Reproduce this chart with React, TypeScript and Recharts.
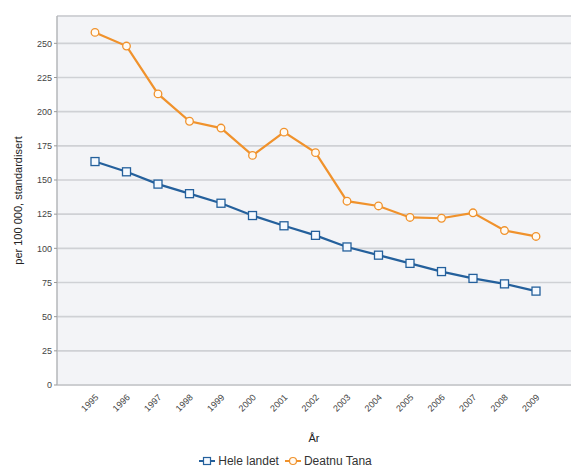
import React from 'react';
import { LineChart, Line, XAxis, YAxis, CartesianGrid, Legend, Label, ReferenceLine } from 'recharts';

const years = ['1995','1996','1997','1998','1999','2000','2001','2002','2003','2004','2005','2006','2007','2008','2009'];
const heleLandet = [163.5, 156, 147, 140, 133, 124, 116.5, 109.5, 101, 95, 89, 83, 78, 74, 68.7];
const deatnuTana = [258, 248, 213, 193, 188, 168, 185, 170, 134.5, 131, 122.6, 122, 126, 113, 108.7];
const yTicks = [0, 25, 50, 75, 100, 125, 150, 175, 200, 225, 250];

const data = years.map((y, i) => ({ year: y, hele: heleLandet[i], tana: deatnuTana[i] }));

const BLUE = '#24609c';
const ORANGE = '#f0922c';
const FONT = '"Liberation Sans", Arial, sans-serif';

const SquareDot = (props: any) => {
  const { cx, cy, index } = props;
  if (cx == null || cy == null) return null;
  return <rect key={`s${index}`} x={cx - 4} y={cy - 4} width={8} height={8} fill="#f4f9ff" stroke={BLUE} strokeWidth={1.3} />;
};

const CircleDot = (props: any) => {
  const { cx, cy, index } = props;
  if (cx == null || cy == null) return null;
  return <circle key={`c${index}`} cx={cx} cy={cy} r={3.8} fill="#fffaf3" stroke={ORANGE} strokeWidth={1.3} />;
};

const XTick = (props: any) => {
  const { x, y, payload } = props;
  return (
    <text x={x + 4} y={y + 5} transform={`rotate(-45, ${x + 4}, ${y + 5})`} textAnchor="end" fontSize={9} fill="#444" fontFamily={FONT}>
      {payload.value}
    </text>
  );
};

const LegendContent = () => (
  <div style={{ display: 'flex', justifyContent: 'center', alignItems: 'center', fontFamily: FONT, fontSize: 12, color: '#333' }}>
    <svg width={16} height={10} style={{ marginRight: 3 }}>
      <line x1={0} y1={5} x2={16} y2={5} stroke={BLUE} strokeWidth={2} />
      <rect x={4.5} y={1.5} width={7} height={7} fill="#f4f9ff" stroke={BLUE} strokeWidth={1.2} />
    </svg>
    <span style={{ marginRight: 6 }}>Hele landet</span>
    <svg width={16} height={10} style={{ marginRight: 3 }}>
      <line x1={0} y1={5} x2={16} y2={5} stroke={ORANGE} strokeWidth={2} />
      <circle cx={8} cy={5} r={3.5} fill="#fffaf3" stroke={ORANGE} strokeWidth={1.2} />
    </svg>
    <span>Deatnu Tana</span>
  </div>
);

export default function App() {
  return (
    <div style={{ position: 'absolute', left: 0, top: 0, width: 571, height: 474, background: '#fff' }}>
      <LineChart width={571} height={474} data={data} margin={{ top: 16, right: 0, left: 0, bottom: 0 }}>
        <CartesianGrid vertical={false} stroke="#cfd1d5" strokeWidth={1.6} fill="#f3f4f7" fillOpacity={1} />
        <ReferenceLine y={270} stroke="#cfd1d5" strokeWidth={1.6} />
        <XAxis
          dataKey="year"
          height={69}
          padding={{ left: 38, right: 35 }}
          tick={<XTick />}
          tickLine={false}
          axisLine={{ stroke: '#c8cacd', strokeWidth: 1.5 }}
          interval={0}
        >
          <Label value="År" position="insideBottom" offset={12} style={{ fontSize: 11, fill: '#222', fontFamily: FONT }} />
        </XAxis>
        <YAxis
          width={57}
          domain={[0, 270]}
          ticks={yTicks}
          interval={0}
          tick={{ fontSize: 9, fill: '#444', fontFamily: FONT }}
          tickSize={3}
          tickLine={{ stroke: '#999' }}
          axisLine={{ stroke: '#b5b7ba', strokeWidth: 1.5 }}
        >
          <Label value="per 100 000, standardisert" angle={-90} position="center" dx={-10} style={{ fontSize: 11, fill: '#222', fontFamily: FONT, textAnchor: 'middle' }} />
        </YAxis>
        <Legend verticalAlign="bottom" align="center" height={20} content={<LegendContent />} />
        <Line type="linear" dataKey="hele" name="Hele landet" stroke={BLUE} strokeWidth={2.2} dot={<SquareDot />} activeDot={false} isAnimationActive={false} />
        <Line type="linear" dataKey="tana" name="Deatnu Tana" stroke={ORANGE} strokeWidth={2.2} dot={<CircleDot />} activeDot={false} isAnimationActive={false} />
      </LineChart>
    </div>
  );
}
